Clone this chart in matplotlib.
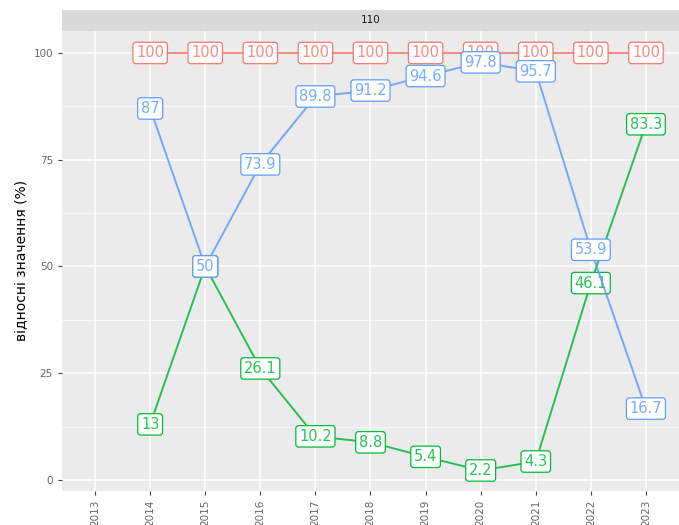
import numpy as np
import matplotlib.pyplot as plt

years = [2014, 2015, 2016, 2017, 2018, 2019, 2020, 2021, 2022, 2023]
red_vals = [100, 100, 100, 100, 100, 100, 100, 100, 100, 100]
blue_vals = [87, 50, 73.9, 89.8, 91.2, 94.6, 97.8, 95.7, 53.9, 16.7]
green_vals = [13, 50, 26.1, 10.2, 8.8, 5.4, 2.2, 4.3, 46.1, 83.3]
tick_years = list(range(2013, 2024))
panel_title = "110"

series = [
    (red_vals, "#F8766D"),
    (green_vals, "#00BA38"),
    (blue_vals, "#619CFF"),
]

fig = plt.figure(figsize=(6.79, 5.25), dpi=100)
ax = fig.add_axes([0.0913, 0.0648, 0.9087, 0.8766])
ax.set_facecolor("#EBEBEB")

# ggplot-like grid
ax.set_xlim(2012.4, 2023.6)
ax.set_ylim(-2.6, 105.2)
ax.set_yticks([0, 25, 50, 75, 100])
ax.set_yticks([12.5, 37.5, 62.5, 87.5], minor=True)
ax.set_xticks(tick_years)
ax.set_xticklabels([str(y) for y in tick_years], rotation=90)
ax.grid(which="major", color="white", linewidth=1.1)
ax.grid(which="minor", axis="y", color="white", linewidth=0.5)
ax.set_axisbelow(True)
for s in ax.spines.values():
    s.set_visible(False)
ax.tick_params(axis="both", which="major", colors="#444444", labelcolor="#666666",
               labelsize=7.5, length=3, width=0.8)
ax.tick_params(axis="y", which="minor", length=0)

# each series: line, then its labels
z = 2
for vals, col in series:
    ax.plot(years, vals, color=col, linewidth=1.4, alpha=0.85, zorder=z)
    for x, v in zip(years, vals):
        ax.text(x, v, f"{v:g}", color=col, alpha=0.85, fontsize=10.5,
                ha="center", va="center", zorder=z + 1,
                bbox=dict(boxstyle="round,pad=0.22,rounding_size=0.2",
                          facecolor="white", edgecolor=col, linewidth=0.9))
    z += 2

ax.set_ylabel("відносні значення (%)", fontsize=10, color="black", labelpad=4)

# facet strip
strip = fig.add_axes([0.0913, 0.941, 0.9087, 0.04])
strip.set_facecolor("#D9D9D9")
strip.set_xticks([])
strip.set_yticks([])
for s in strip.spines.values():
    s.set_visible(False)
strip.text(0.5, 0.5, panel_title, ha="center", va="center", fontsize=7.5,
           color="#1A1A1A", transform=strip.transAxes)

fig.savefig("out.png", dpi=100)
